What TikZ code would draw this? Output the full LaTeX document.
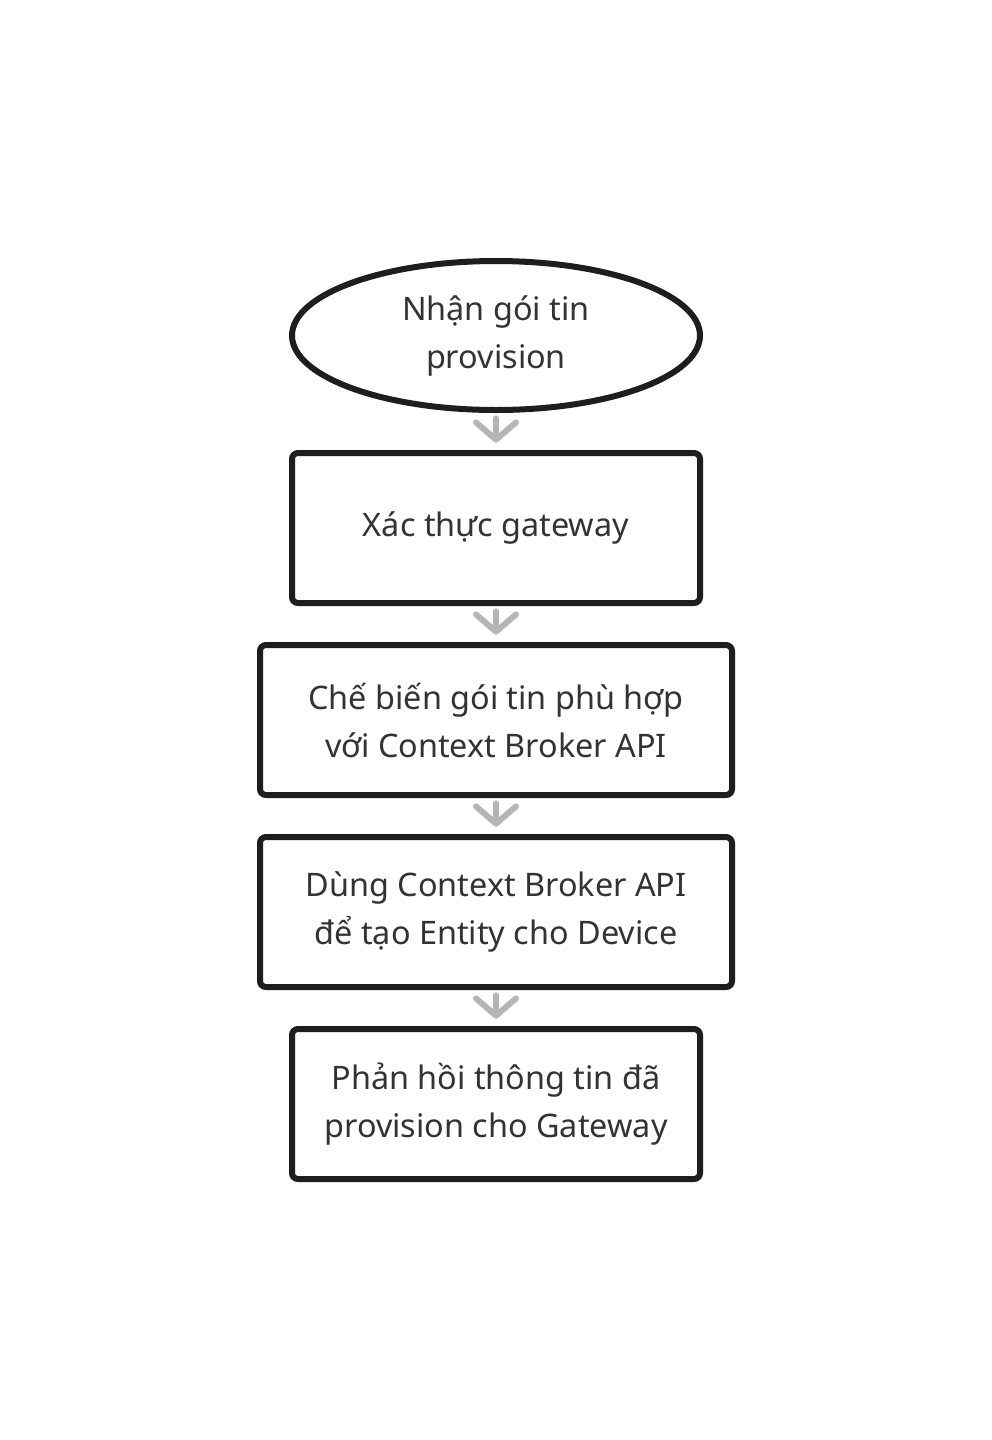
\documentclass[tikz,border=0pt]{standalone}
\usepackage{fontspec}
\setmainfont{Noto Sans}
\usetikzlibrary{shapes.geometric,arrows.meta}
\definecolor{edge}{HTML}{1E1E1E}
\definecolor{txt}{HTML}{333333}
\definecolor{conn}{HTML}{B5B5B5}
\tikzset{
  base/.style={draw=edge, line width=4.5pt, fill=white, text=txt, align=center,
    font=\fontsize{24.3}{36}\selectfont, inner sep=0pt},
  oval/.style={base, ellipse, minimum width=306pt, minimum height=111.75pt},
  stepbox/.style={base, rectangle, rounded corners=4.5pt, minimum height=112.5pt},
  narrow/.style={stepbox, minimum width=306pt},
  wide/.style={stepbox, minimum width=354pt},
  flow/.style={draw=conn, line width=4.5pt, line cap=round,
    -{Straight Barb[length=13pt, width=30pt, line width=4.5pt, round]},
    shorten >=5.5pt, shorten <=4pt}
}
\begin{document}
\begin{tikzpicture}[x=0.75pt,y=-0.75pt]
\useasboundingbox (0,0) rectangle (992,1440);
\fill[white] (0,0) rectangle (992,1440);
\node[oval] (n1) at (496,335.5) {Nhận gói tin\\provision};
\node[narrow] (n2) at (496,528) {Xác thực gateway};
\node[wide] (n3) at (496,720) {Chế biến gói tin phù hợp\\với Context Broker API};
\node[wide] (n4) at (496,912) {Dùng Context Broker API\\để tạo Entity cho Device};
\node[narrow] (n5) at (496,1104) {Phản hồi thông tin đã\\provision cho Gateway};
\draw[flow] (n1) -- (n2);
\draw[flow] (n2) -- (n3);
\draw[flow] (n3) -- (n4);
\draw[flow] (n4) -- (n5);
\end{tikzpicture}
\end{document}
